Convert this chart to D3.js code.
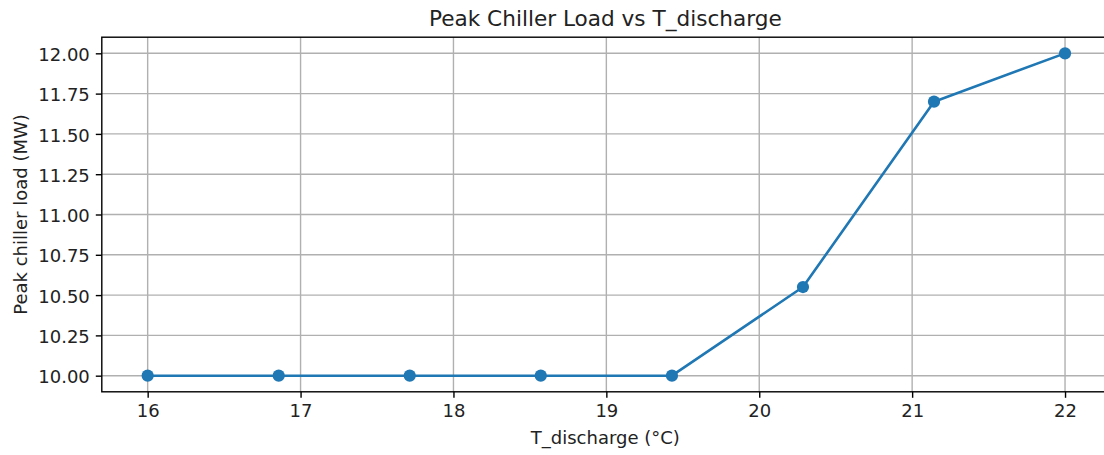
<!DOCTYPE html>
<html>
<head>
<meta charset="utf-8">
<script src="https://cdn.jsdelivr.net/npm/d3@7"></script>
<style>
  html, body { margin: 0; padding: 0; background: #ffffff; }
  svg { display: block; font-family: "DejaVu Sans", sans-serif; }
</style>
</head>
<body>
<svg id="chart" width="1104" height="455"></svg>
<script>
// Discharge temperature sweep (°C) and the resulting peak chiller load (MW)
const tDischarge = [16, 16.857, 17.714, 18.571, 19.429, 20.286, 21.143, 22];
const peakLoad = [10.0, 10.0, 10.0, 10.0, 10.0, 10.55, 11.70, 12.0];
const xTicks = [16, 17, 18, 19, 20, 21, 22];
const yTicks = [10.0, 10.25, 10.5, 10.75, 11.0, 11.25, 11.5, 11.75, 12.0];

const titleText = "Peak Chiller Load vs T_discharge";
const xLabelText = "T_discharge (°C)";
const yLabelText = "Peak chiller load (MW)";

const svg = d3.select("#chart");
const W = 1104, H = 455;
const plot = { left: 101.8, right: 1110.9, top: 37.2, bottom: 391.8 };
const blue = "#1f77b4";
const fontSize = 18;

// 5% padding on each side of the data range
const xExt = d3.extent(tDischarge), yExt = d3.extent(peakLoad);
const xPad = (xExt[1] - xExt[0]) * 0.05, yPad = (yExt[1] - yExt[0]) * 0.05;
const x = d3.scaleLinear().domain([xExt[0] - xPad, xExt[1] + xPad]).range([plot.left, plot.right]);
const y = d3.scaleLinear().domain([yExt[0] - yPad, yExt[1] + yPad]).range([plot.bottom, plot.top]);

svg.append("rect").attr("width", W).attr("height", H).attr("fill", "#fff");

// grid
const grid = svg.append("g").attr("stroke", "#b0b0b0").attr("stroke-width", 1.4);
grid.selectAll("line.gx").data(xTicks).enter().append("line")
  .attr("x1", d => x(d)).attr("x2", d => x(d))
  .attr("y1", plot.top).attr("y2", plot.bottom);
grid.selectAll("line.gy").data(yTicks).enter().append("line")
  .attr("y1", d => y(d)).attr("y2", d => y(d))
  .attr("x1", plot.left).attr("x2", plot.right);

// axes
const xAxis = d3.axisBottom(x).tickValues(xTicks).tickSize(6).tickPadding(5)
  .tickFormat(d3.format("d"));
const yAxis = d3.axisLeft(y).tickValues(yTicks).tickSize(6).tickPadding(6)
  .tickFormat(d3.format(".2f"));

const gx = svg.append("g").attr("transform", `translate(0,${plot.bottom})`).call(xAxis);
const gy = svg.append("g").attr("transform", `translate(${plot.left},0)`).call(yAxis);
[gx, gy].forEach(g => {
  g.select(".domain").remove();
  g.selectAll(".tick line").attr("stroke", "#000").attr("stroke-width", 1.4);
  g.selectAll(".tick text").attr("fill", "#222").attr("font-size", fontSize)
    .attr("font-family", "DejaVu Sans, sans-serif");
});
gx.selectAll(".tick text").attr("dy", null).attr("y", 25.6);
gy.selectAll(".tick text").attr("dy", null).attr("y", 7.2);

// series
svg.append("path").datum(tDischarge.map((t, i) => [t, peakLoad[i]]))
  .attr("fill", "none").attr("stroke", blue).attr("stroke-width", 2.6)
  .attr("stroke-linejoin", "round").attr("stroke-linecap", "square")
  .attr("d", d3.line().x(d => x(d[0])).y(d => y(d[1])));
svg.append("g").selectAll("circle").data(tDischarge).enter().append("circle")
  .attr("cx", d => x(d)).attr("cy", (d, i) => y(peakLoad[i]))
  .attr("r", 6.1).attr("fill", blue);

// frame
svg.append("rect").attr("x", plot.left).attr("y", plot.top)
  .attr("width", plot.right - plot.left).attr("height", plot.bottom - plot.top)
  .attr("fill", "none").attr("stroke", "#000").attr("stroke-width", 1.4);

// labels
const mid = (plot.left + plot.right) / 2;
svg.append("text").attr("x", mid - 1).attr("y", 26).attr("text-anchor", "middle")
  .attr("font-size", 21.6).attr("fill", "#222").text(titleText);
svg.append("text").attr("x", mid - 1).attr("y", 444).attr("text-anchor", "middle")
  .attr("font-size", fontSize).attr("fill", "#222").text(xLabelText);
svg.append("text").attr("transform", `translate(26.5,${(plot.top + plot.bottom) / 2}) rotate(-90)`)
  .attr("text-anchor", "middle").attr("font-size", fontSize).attr("fill", "#222").text(yLabelText);
</script>
</body>
</html>
